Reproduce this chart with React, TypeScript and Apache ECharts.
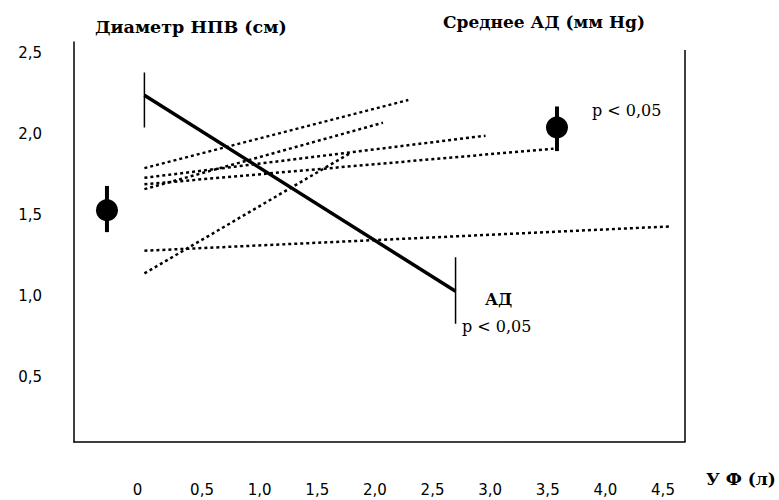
import React, { useEffect, useRef } from "react";
import * as echarts from "echarts";

// x ticks (УФ, л) and y ticks (diameter, cm)
const xTicks = [0, 0.5, 1.0, 1.5, 2.0, 2.5, 3.0, 3.5, 4.0, 4.5];
const yTicks = [0.5, 1.0, 1.5, 2.0, 2.5];

// solid line (АД)
const solidLine = [
  [0, 2.24],
  [2.7, 1.03],
];
// error bars at ends of solid line
const solidStartBar = [
  [0, 2.04],
  [0, 2.38],
];
const solidEndBar = [
  [2.7, 0.83],
  [2.7, 1.24],
];

// dotted individual lines
const dottedA = [
  [0, 1.79],
  [2.29, 2.21],
];
const dottedB = [
  [0, 1.66],
  [2.07, 2.07],
];
const dottedC = [
  [0, 1.73],
  [2.96, 1.99],
];
const dottedD = [
  [0, 1.69],
  [3.55, 1.91],
];
const dottedE = [
  [0, 1.28],
  [4.56, 1.43],
];
const dottedF = [
  [0, 1.14],
  [1.78, 1.88],
];

// mean dots with error bars
const leftDot = [[-0.325, 1.53]];
const leftDotBar = [
  [-0.325, 1.395],
  [-0.325, 1.68],
];
const rightDot = [[3.58, 2.04]];
const rightDotBar = [
  [3.58, 1.895],
  [3.58, 2.17],
];

const xMin = -0.611;
const xMax = 4.691;
const yMin = 0.1;
const yMax = 2.568;
const rightFrameTop = 2.519;

const fmt = (v: number) => v.toFixed(1).replace(".", ",");

export default function App() {
  const ref = useRef<HTMLDivElement>(null);
  useEffect(() => {
    document.body.style.margin = "0";
    const chart = echarts.init(ref.current!, null, { renderer: "svg" });
    const dotted = (d: number[][]) => ({
      type: "line",
      data: d,
      symbol: "none",
      silent: true,
      lineStyle: { color: "#000", width: 2.5, type: [3, 3] },
    });
    const bar = (d: number[][], w: number) => ({
      type: "line",
      data: d,
      symbol: "none",
      silent: true,
      lineStyle: { color: "#000", width: w },
    });
    const serif = "DejaVu Serif";
    const sans = "DejaVu Sans";
    chart.setOption({
      animation: false,
      grid: { left: 74, right: 94, top: 42, bottom: 58 },
      xAxis: {
        type: "value",
        min: xMin,
        max: xMax,
        axisLine: { show: true, onZero: false, lineStyle: { color: "#000", width: 1.5 } },
        axisTick: { show: false },
        splitLine: { show: false },
        axisLabel: {
          customValues: xTicks,
          formatter: (v: number) => (v === 0 ? "{z|0}" : fmt(v)),
          margin: 40,
          color: "#000",
          fontSize: 15,
          fontFamily: sans,
          rich: {
            z: { fontSize: 15, fontFamily: sans, color: "#000", padding: [0, 14, 0, 0] },
          },
        },
      },
      yAxis: {
        type: "value",
        min: yMin,
        max: yMax,
        axisLine: { show: true, onZero: false, lineStyle: { color: "#000", width: 1.5 } },
        axisTick: { show: false },
        splitLine: { show: false },
        axisLabel: {
          customValues: yTicks,
          formatter: fmt,
          margin: 32,
          color: "#000",
          fontSize: 15,
          fontFamily: sans,
        },
      },
      series: [
        {
          type: "line",
          data: solidLine,
          symbol: "none",
          lineStyle: { color: "#000", width: 3.5 },
          markLine: {
            silent: true,
            symbol: "none",
            label: { show: false },
            lineStyle: { color: "#000", width: 1.5, type: "solid" },
            data: [
              [
                { coord: [xMax, yMin] },
                { coord: [xMax, rightFrameTop] },
              ],
            ],
          },
        },
        bar(solidStartBar, 1.5),
        bar(solidEndBar, 1.5),
        dotted(dottedA),
        dotted(dottedB),
        dotted(dottedC),
        dotted(dottedD),
        dotted(dottedE),
        dotted(dottedF),
        bar(leftDotBar, 4),
        bar(rightDotBar, 4),
        {
          type: "scatter",
          data: leftDot,
          symbol: "circle",
          symbolSize: 22,
          itemStyle: { color: "#000", opacity: 1 },
        },
        {
          type: "scatter",
          data: rightDot,
          symbol: "circle",
          symbolSize: 22,
          itemStyle: { color: "#000", opacity: 1 },
        },
      ],
      graphic: [
        {
          type: "text",
          left: 95,
          top: 18,
          style: {
            text: "Диаметр НПВ (см)",
            font: `bold 17.5px ${serif}`,
            fill: "#000",
          },
        },
        {
          type: "text",
          left: 443,
          top: 13,
          style: {
            text: "Среднее АД (мм Hg)",
            font: `bold 17px ${serif}`,
            fill: "#000",
          },
        },
        {
          type: "text",
          left: 592,
          top: 102,
          style: {
            text: "p < 0,05",
            font: `16px ${serif}`,
            fill: "#000",
          },
        },
        {
          type: "text",
          left: 485,
          top: 291,
          style: {
            text: "АД",
            font: `bold 16px ${serif}`,
            fill: "#000",
          },
        },
        {
          type: "text",
          left: 462,
          top: 318,
          style: {
            text: "p < 0,05",
            font: `16px ${serif}`,
            fill: "#000",
          },
        },
        {
          type: "text",
          left: 706,
          top: 470,
          style: {
            text: "У Ф (л)",
            font: `bold 17px ${serif}`,
            fill: "#000",
          },
        },
      ],
    });
    return () => chart.dispose();
  }, []);
  return <div ref={ref} style={{ width: 779, height: 500 }} />;
}
